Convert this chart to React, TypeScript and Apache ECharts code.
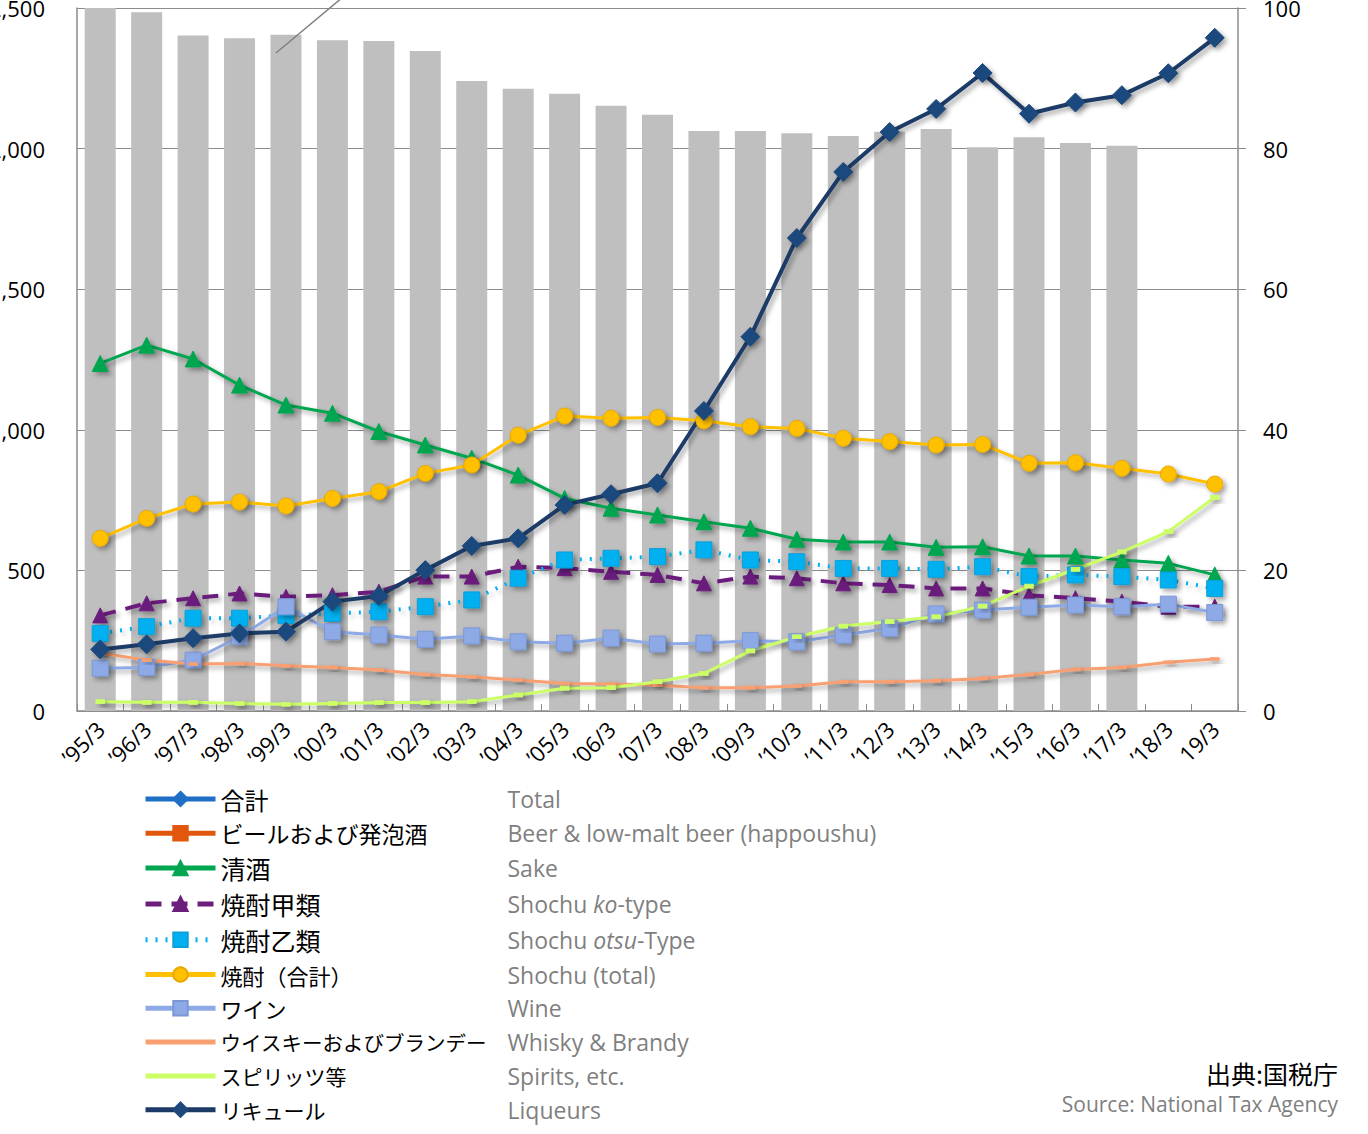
import React, { useEffect, useRef } from "react";
import * as echarts from "echarts";

const categories = [
  "’95/3", "’96/3", "’97/3", "’98/3", "’99/3", "’00/3", "’01/3", "’02/3", "’03/3", "’04/3",
  "’05/3", "’06/3", "’07/3", "’08/3", "’09/3", "’10/3", "’11/3", "’12/3", "’13/3", "’14/3",
  "’15/3", "’16/3", "’17/3", "’18/3", "19/3",
];

// gray bars (right axis, 0-100)
const barValues = [
  100, 99.4, 96.1, 95.7, 96.2, 95.4, 95.3, 93.9, 89.6, 88.5,
  87.8, 86.1, 84.8, 82.5, 82.5, 82.2, 81.8, 82.4, 82.8, 80.2,
  81.6, 80.8, 80.4, null, null,
];

// lines (left axis)
const total: (number | null)[] = [];
const beer: (number | null)[] = [];
const sake = [1236, 1301, 1252, 1159, 1088, 1059, 994, 946, 899, 839, 756, 721, 697, 673, 650, 611, 601, 601, 582, 584, 551, 551, 537, 525, 484];
const shochuKo = [340, 383, 401, 418, 406, 412, 424, 478, 478, 513, 508, 495, 484, 454, 478, 472, 454, 448, 436, 436, 412, 401, 389, 371, 371];
const shochuOtsu = [276, 300, 330, 330, 340, 347, 353, 371, 395, 472, 537, 543, 549, 573, 537, 531, 507, 507, 504, 513, 478, 484, 478, 466, 436];
const shochuTotal = [614, 685, 736, 743, 729, 756, 780, 845, 875, 981, 1049, 1041, 1044, 1032, 1011, 1005, 970, 958, 946, 948, 881, 883, 863, 843, 807];
const wine = [152, 155, 181, 264, 371, 282, 270, 255, 267, 246, 241, 259, 238, 241, 250, 246, 270, 294, 345, 359, 369, 377, 371, 380, 350];
const whisky = [205, 181, 167, 169, 161, 155, 146, 130, 122, 110, 98, 96, 92, 83, 83, 89, 104, 104, 108, 116, 130, 148, 155, 173, 185];
const spirits = [33, 31, 31, 27, 24, 27, 30, 30, 33, 57, 81, 83, 104, 134, 214, 264, 302, 318, 335, 373, 444, 504, 566, 638, 760];
const liqueur = [219, 237, 259, 276, 282, 389, 409, 501, 587, 614, 733, 771, 810, 1067, 1331, 1682, 1917, 2059, 2141, 2269, 2124, 2164, 2190, 2268, 2394];

const legendJa = [
  "合計", "ビールおよび発泡酒", "清酒", "焼酎甲類", "焼酎乙類",
  "焼酎（合計）", "ワイン", "ウイスキーおよびブランデー", "スピリッツ等", "リキュール",
];
const legendEn = [
  "{en|Total}",
  "{en|Beer & low-malt beer (happoushu)}",
  "{en|Sake}",
  "{en|Shochu }{enI|ko}{en|-type}",
  "{en|Shochu }{enI|otsu}{en|-Type}",
  "{en|Shochu (total)}",
  "{en|Wine}",
  "{en|Whisky & Brandy}",
  "{en|Spirits, etc.}",
  "{en|Liqueurs}",
];
// style: Japanese legend font size per row (reference font has proportional kana)
const legendJaStyle = ["j24", "j23", "j25", "j25", "j25", "j22", "j22", "j20", "j21", "j21"];

const yLeftTicks = { min: 0, max: 2500, interval: 500 };
const yRightTicks = { min: 0, max: 100, interval: 20 };

const LATIN = "'Open Sans', 'Noto Sans', sans-serif";
const CJK = "'Noto Sans CJK JP', sans-serif";

const shadow = {
  shadowColor: "rgba(0,0,0,0.35)",
  shadowBlur: 5,
  shadowOffsetX: 3,
  shadowOffsetY: 3,
};

function lineSeries(
  name: string,
  data: (number | null)[],
  color: string,
  opts: {
    symbol?: string;
    symbolSize?: number | number[];
    width?: number;
    type?: any;
    markerColor?: string;
    borderColor?: string;
  }
) {
  return {
    name,
    type: "line",
    data,
    yAxisIndex: 0,
    z: 3,
    symbol: opts.symbol ?? "none",
    symbolSize: opts.symbolSize ?? 14,
    showSymbol: true,
    color,
    lineStyle: {
      color,
      width: opts.width ?? 3,
      type: opts.type ?? "solid",
      ...shadow,
    },
    itemStyle: {
      color: opts.markerColor ?? color,
      borderColor: opts.borderColor ?? opts.markerColor ?? color,
      borderWidth: 1,
      ...shadow,
    },
    emphasis: { disabled: true },
  };
}

function jaStyle(size: number) {
  return { fontFamily: CJK, fontSize: size, color: "#000", width: 287, lineHeight: 26 };
}

export default function App() {
  const ref = useRef<HTMLDivElement>(null);

  useEffect(() => {
    if (!ref.current) return;
    const chart = echarts.init(ref.current, null, { renderer: "svg" });

    const fmt: Record<string, string> = {};
    legendJa.forEach((n, i) => (fmt[n] = `{${legendJaStyle[i]}|${n}}${legendEn[i]}`));

    const legendData = legendJa.map((n, i) =>
      i === 7 || i === 8 ? { name: n, itemStyle: { opacity: 0 } } : { name: n }
    );

    const option: any = {
      animation: false,
      backgroundColor: "#ffffff",
      grid: {
        left: 77,
        right: 130,
        top: 8,
        bottom: 423,
        containLabel: false,
        outerBoundsMode: "none",
      },
      legend: {
        data: legendData,
        orient: "vertical",
        left: 143,
        top: 787,
        height: 347,
        padding: 0,
        itemWidth: 70,
        itemHeight: 18,
        itemGap: 10.8,
        selectedMode: false,
        lineStyle: { width: 5 },
        formatter: (name: string) => fmt[name],
        textStyle: {
          rich: {
            j20: jaStyle(20.5),
            j21: jaStyle(21),
            j22: jaStyle(22),
            j23: jaStyle(23),
            j24: jaStyle(24),
            j25: jaStyle(25),
            en: { fontFamily: LATIN, fontSize: 23, color: "#7f7f7f", lineHeight: 26 },
            enI: { fontFamily: LATIN, fontSize: 23, color: "#7f7f7f", lineHeight: 26, fontStyle: "italic" },
          },
        },
      },
      xAxis: {
        type: "category",
        data: categories,
        boundaryGap: true,
        axisLine: { lineStyle: { color: "#8c8c8c", width: 1.5 } },
        axisTick: { show: true, inside: true, length: 7, lineStyle: { color: "#8c8c8c" } },
        axisLabel: {
          interval: 0,
          rotate: 45,
          margin: 14,
          fontSize: 22,
          fontFamily: LATIN,
          color: "#000",
        },
      },
      yAxis: [
        {
          type: "value",
          ...yLeftTicks,
          position: "left",
          axisLine: { show: true, lineStyle: { color: "#8c8c8c", width: 1.5 } },
          axisTick: { show: false },
          splitLine: { show: true, lineStyle: { color: "#8c8c8c", width: 1.2 } },
          axisLabel: {
            margin: 32,
            fontSize: 22,
            fontFamily: LATIN,
            color: "#000",
            formatter: (v: number) => String(v).replace(/\B(?=(\d{3})+(?!\d))/g, ","),
          },
        },
        {
          type: "value",
          ...yRightTicks,
          position: "right",
          axisLine: { show: true, lineStyle: { color: "#8c8c8c", width: 1.5 } },
          axisTick: { show: true, inside: false, length: 8, lineStyle: { color: "#8c8c8c" } },
          splitLine: { show: false },
          axisLabel: {
            margin: 25,
            fontSize: 22,
            fontFamily: LATIN,
            color: "#000",
          },
        },
      ],
      series: [
        {
          name: "bars",
          type: "bar",
          data: barValues,
          yAxisIndex: 1,
          barWidth: 31,
          z: 1,
          itemStyle: { color: "#bfbfbf" },
          emphasis: { disabled: true },
        },
        lineSeries(legendJa[0], total, "#1f6fc6", { symbol: "diamond", symbolSize: 18, width: 4 }),
        lineSeries(legendJa[1], beer, "#e2570e", { symbol: "rect", symbolSize: 14, width: 4 }),
        lineSeries(legendJa[2], sake, "#00a650", { symbol: "triangle", symbolSize: 16 }),
        lineSeries(legendJa[3], shochuKo, "#6b1e7b", { symbol: "triangle", symbolSize: 15, type: [16, 10], width: 4 }),
        lineSeries(legendJa[4], shochuOtsu, "#00b0f0", { symbol: "rect", symbolSize: 16, type: [2, 8], width: 4, borderColor: "#0b9fd8" }),
        lineSeries(legendJa[5], shochuTotal, "#ffc000", { symbol: "circle", symbolSize: 16, borderColor: "#e8a800" }),
        lineSeries(legendJa[6], wine, "#8eaae6", { symbol: "rect", symbolSize: 16, borderColor: "#7b97d6" }),
        lineSeries(legendJa[7], whisky, "#f9a073", { symbol: "rect", symbolSize: [8, 3] }),
        lineSeries(legendJa[8], spirits, "#ccff66", { symbol: "rect", symbolSize: [8, 4] }),
        lineSeries(legendJa[9], liqueur, "#1b3a66", { symbol: "diamond", symbolSize: 19, width: 4, markerColor: "#1f497d" }),
      ],
      graphic: [
        {
          type: "line",
          shape: { x1: 276, y1: 53, x2: 343, y2: -3 },
          style: { stroke: "#808080", lineWidth: 1.5 },
          z: 10,
        },
        {
          type: "text",
          right: 30,
          top: 1060,
          style: { text: "出典:国税庁", font: `25px ${CJK}`, fill: "#000" },
        },
        {
          type: "text",
          right: 30,
          top: 1093,
          style: { text: "Source: National Tax Agency", font: `21px ${LATIN}`, fill: "#7f7f7f" },
        },
      ],
    };

    chart.setOption(option);
    return () => chart.dispose();
  }, []);

  return (
    <div
      ref={ref}
      style={{ position: "absolute", left: 0, top: 0, width: 1368, height: 1134 }}
    />
  );
}
